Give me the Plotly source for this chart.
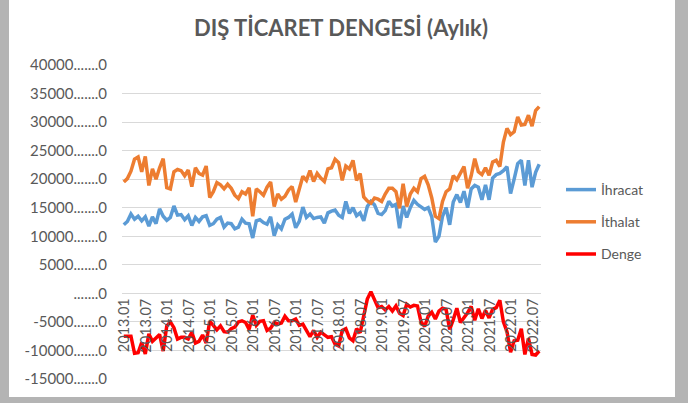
import plotly.graph_objects as go

# ---------------- data (million USD, monthly) ----------------
months = [f"{y}.{m:02d}" for y in range(2013, 2023) for m in range(1, 13)][:117]

ihracat = [
    12000, 12600, 13900, 13000, 13500, 12700, 13400, 11800, 13400, 12200, 14800, 13500,
    12800, 13300, 15300, 13700, 13800, 12900, 13600, 11900, 13300, 12600, 13400, 13600,
    11900, 12200, 13000, 13300, 11600, 12300, 12200, 11300, 11600, 13000, 12300, 12200,
    9700, 12700, 12900, 12400, 12100, 13400, 10100, 12000, 11300, 13000, 13300, 13900,
    11500, 12600, 15100, 13300, 13900, 13100, 13300, 13400, 12300, 14100, 14400, 14600,
    13700, 13300, 16100, 14000, 15000, 13600, 14100, 12700, 15200, 16100, 15500, 14000,
    13800, 14500, 16100, 15300, 15600, 11400, 15300, 13300, 15000, 16300, 15600, 15100,
    14700, 15000, 13400, 9000, 10000, 13500, 15000, 12000, 16000, 17300, 15900, 17900,
    15000, 18300, 18900, 18600, 16400, 19000, 16400, 20200, 20800, 21000, 21500, 22200,
    17500, 20000, 22700, 23300, 18900, 23300, 18600, 21200, 22600,
]

ithalat = [
    19500, 20100, 21400, 23500, 23900, 21300, 24000, 18900, 21800, 20000, 22000, 23600,
    18500, 18300, 21300, 21700, 21500, 20600, 21600, 18700, 22000, 21000, 20700, 22300,
    16800, 17800, 19400, 19000, 18300, 19100, 18400, 17200, 16600, 17800, 17400, 18500,
    13500, 18300, 17800, 17200, 18600, 19500, 15200, 17400, 16500, 17000, 18100, 18700,
    16000, 18200, 20500, 19800, 21500, 19600, 21000, 20200, 19600, 21800, 22000, 23500,
    22900, 19800, 22300, 21800, 23300, 19800, 21000, 16900, 16200, 15800, 16700, 16500,
    16100, 17400, 18400, 18400, 17800, 14900, 19200, 15200, 17400, 18400, 17800, 20100,
    20500, 19000, 16700, 13500, 13100, 16100, 17800, 18300, 20600, 19900, 21000, 22200,
    18400, 20600, 23600, 21300, 20800, 22000, 20700, 23000, 23300, 22200, 26500, 28900,
    27800, 28300, 30900, 29500, 29600, 31200, 29300, 32000, 32700,
]

denge = [
    -7500, -7500, -7500, -10500, -10400, -8600, -10600, -7100, -8400, -7800, -7200, -10100,
    -5700, -5000, -6000, -8000, -7700, -7700, -8000, -6800, -8700, -8400, -7300, -8700,
    -4900, -5600, -6400, -5700, -6700, -6800, -6200, -5900, -5000, -4800, -5100, -6300,
    -3800, -5600, -4900, -4800, -6500, -6100, -5100, -5400, -5200, -4000, -4800, -4800,
    -4500, -5600, -5400, -6500, -7600, -6500, -7700, -6800, -7300, -7700, -7600, -8900,
    -9200, -6500, -6200, -7800, -8300, -6200, -6900, -4200, -1000, 300, -1200, -2500,
    -2300, -2900, -2300, -3100, -2200, -3500, -3900, -1900, -2400, -2100, -2200, -5000,
    -5800, -4000, -3300, -4500, -3100, -2600, -2800, -6300, -4600, -2600, -5100, -4300,
    -3400, -2300, -4700, -2700, -4400, -3000, -4300, -2800, -2500, -1200, -5000, -6700,
    -10300, -8300, -8200, -6200, -10700, -7900, -10700, -10800, -10100,
]

ytick_vals = [40000, 35000, 30000, 25000, 20000, 15000, 10000, 5000, 0, -5000, -10000, -15000]
ytick_text = ["40000.......0", "35000.......0", "30000.......0", "25000.......0",
              "20000.......0", "15000.......0", "10000.......0", "5000.......0",
              ".......0", "-5000.......0", "-10000.......0", "-15000.......0"]
xlabel_step = 6

# ---------------- figure ----------------
W, H = 688, 403
L, R, T, B = 122, 147, 65, 24
FONT = "Lato"
GREY = "#595959"

fig = go.Figure()
series = [("İhracat", ihracat, "#5B9BD5"), ("İthalat", ithalat, "#ED7D31"), ("Denge", denge, "#FF0000")]
for name, vals, col in series:
    fig.add_trace(go.Scatter(x=months, y=vals, mode="lines", name=name, legendgroup=name,
                             line=dict(color=col, width=3.5)))

annotations = []
for i in range(0, len(months), xlabel_step):
    annotations.append(dict(x=i, y=0, xref="x", yref="y", text=months[i],
                            textangle=-90, showarrow=False, xanchor="center", yanchor="top",
                            yshift=-3, font=dict(family=FONT, size=14.5, color=GREY)))
annotations.append(dict(text="<b>DIŞ TİCARET DENGESİ (Aylık)</b>", xref="paper", yref="paper",
                        x=(341 - L) / (W - L - R), y=1 + (T - 27) / (H - T - B),
                        xanchor="center", yanchor="middle", showarrow=False,
                        font=dict(family=FONT, size=22, color=GREY)))

pw, ph = W - L - R, H - T - B
def px2x(px):
    return (px - L) / pw
def py2y(py):
    return 1 - (py - T) / ph

shapes = [
    dict(type="rect", xref="paper", yref="paper", x0=px2x(0), x1=px2x(9), y0=py2y(H), y1=py2y(0),
         fillcolor="#b4b4b4", line=dict(width=0), layer="below"),
    dict(type="rect", xref="paper", yref="paper", x0=px2x(675), x1=px2x(W), y0=py2y(H), y1=py2y(0),
         fillcolor="#b4b4b4", line=dict(width=0), layer="below"),
    dict(type="rect", xref="paper", yref="paper", x0=px2x(0), x1=px2x(W), y0=py2y(H), y1=py2y(397),
         fillcolor="#b4b4b4", line=dict(width=0), layer="below"),
]

fig.update_layout(
    width=W, height=H,
    margin=dict(l=L, r=R, t=T, b=B),
    paper_bgcolor="white", plot_bgcolor="white",
    font=dict(family=FONT, color=GREY),
    showlegend=True,
    legend=dict(xref="container", yref="container", x=561 / W, y=1 - 222 / H,
                xanchor="left", yanchor="middle", font=dict(family=FONT, size=14, color=GREY),
                tracegroupgap=11, bgcolor="rgba(0,0,0,0)", itemwidth=30),
    xaxis=dict(type="category", range=[-0.5, len(months) - 0.5], showticklabels=False,
               showgrid=False, zeroline=False, showline=False, ticks=""),
    yaxis=dict(range=[-15000, 40000], tickvals=ytick_vals, ticktext=ytick_text,
               showgrid=True, gridcolor="#d9d9d9", gridwidth=1, zeroline=False,
               showline=False, ticks="", ticklabelstandoff=14,
               tickfont=dict(family=FONT, size=15, color=GREY)),
    annotations=annotations,
    shapes=shapes,
)

fig.write_html("out.html", config={"displayModeBar": False},
               post_script="document.body.style.margin='0';")
